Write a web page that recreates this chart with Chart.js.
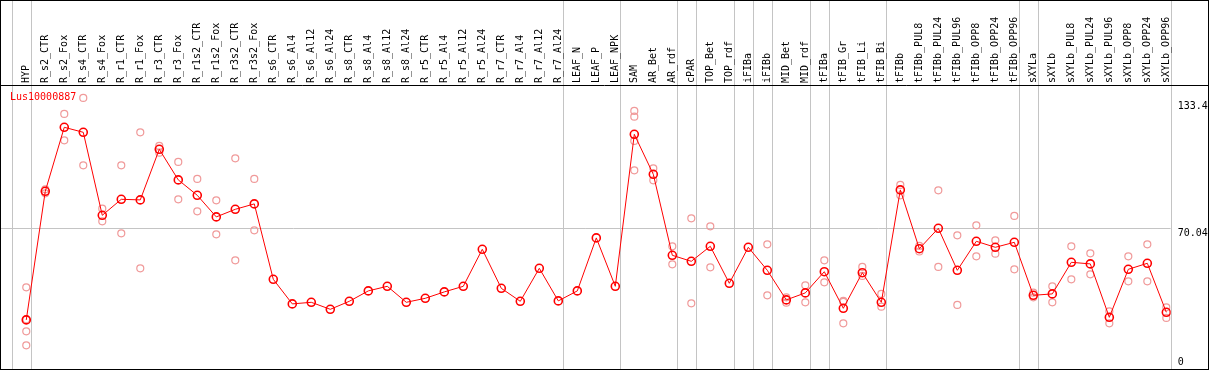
<!DOCTYPE html>
<html>
<head>
<meta charset="utf-8">
<script src="https://cdn.jsdelivr.net/npm/chart.js@4.4.1/dist/chart.umd.min.js"></script>
<style>
  html, body { margin: 0; padding: 0; background: #fff; }
  #wrap { width: 1209px; height: 370px; position: relative; }
</style>
</head>
<body>
<div id="wrap"><canvas id="exprChart"></canvas></div>
<script>
const geneName = 'Lus10000887';

const categories = [
    'HYP', 'R_s2_CTR', 'R_s2_Fox', 'R_s4_CTR', 'R_s4_Fox', 'R_r1_CTR', 'R_r1_Fox',
    'R_r3_CTR', 'R_r3_Fox', 'R_r1s2_CTR', 'R_r1s2_Fox', 'R_r3s2_CTR', 'R_r3s2_Fox',
    'R_s6_CTR', 'R_s6_Al4', 'R_s6_Al12', 'R_s6_Al24', 'R_s8_CTR', 'R_s8_Al4', 'R_s8_Al12',
    'R_s8_Al24', 'R_r5_CTR', 'R_r5_Al4', 'R_r5_Al12', 'R_r5_Al24', 'R_r7_CTR', 'R_r7_Al4',
    'R_r7_Al12', 'R_r7_Al24', 'LEAF_N', 'LEAF_P', 'LEAF_NPK', 'SAM', 'AR_Bet', 'AR_rdf',
    'cPAR', 'TOP_Bet', 'TOP_rdf', 'iFIBa', 'iFIBb', 'MID_Bet', 'MID_rdf', 'tFIBa',
    'tFIB_Gr', 'tFIB_Li', 'tFIB_Bi', 'tFIBb', 'tFIBb_PUL8', 'tFIBb_PUL24', 'tFIBb_PUL96',
    'tFIBb_OPP8', 'tFIBb_OPP24', 'tFIBb_OPP96', 'sXYLa', 'sXYLb', 'sXYLb_PUL8',
    'sXYLb_PUL24', 'sXYLb_PUL96', 'sXYLb_OPP8', 'sXYLb_OPP24', 'sXYLb_OPP96'
];

// mean expression per sample
const meanExpr = [
    24.3, 88.6, 120.6, 118.1, 76.6, 84.6, 84.3, 109.6, 94.3, 86.6, 75.8, 79.6, 82.3,
    44.6, 32.3, 33.1, 29.6, 33.6, 38.8, 41.1, 33.1, 35.1, 38.3, 41.1, 59.6, 40.1, 33.6,
    50.1, 33.8, 38.8, 65.3, 41.1,
    117.1, 97.1, 56.6, 53.6, 61.1, 42.6, 60.6, 49.1, 34.3, 37.8, 48.4, 30.1, 47.9, 33.1,
    89.3, 59.9, 70.1, 49.1, 63.6, 60.6, 63.1,
    36.6, 37.3, 53.1, 52.3, 25.6, 49.6, 52.6, 28.1
];

// individual replicates
const rep1 = [
    40.6, 89.6, 127.3, 135.3, 79.9, 101.6, 118.1, 111.3, 103.3, 94.8, 84.1, 105.1, 94.8,
    null, null, null, null, null, null, null, null, null, null, null, null, null, null,
    null, null, null, null, null,
    128.8, 100.1, 61.1, 75.1, 71.1, null, null, 62.1, 35.6, 41.6, 54.1, 33.8, 50.8, 37.3,
    91.8, 61.3, 89.1, 66.6, 71.6, 64.1, 76.3,
    37.9, 41.1, 61.1, 57.6, 28.6, 56.1, 62.1, 30.6
];
const rep2 = [
    11.6, 87.6, 114.1, 101.6, 73.6, 67.6, 50.1, 107.9, 84.6, 78.6, 67.1, 54.1, 69.1,
    null, null, null, null, null, null, null, null, null, null, null, null, null, null,
    null, null, null, null, null,
    99.1, 94.1, 52.1, 32.6, 50.6, null, null, 36.6, 32.9, 33.1, 43.1, 22.6, 46.3, 30.9,
    86.6, 58.5, 50.8, 31.8, 56.1, 57.4, 49.6,
    35.6, 33.1, 44.6, 47.1, 22.6, 43.6, 43.6, 25.3
];
const rep3 = [
    24.6, null, null, null, null, null, null, null, null, null, null, null, null,
    null, null, null, null, null, null, null, null, null, null, null, null, null, null,
    null, null, null, null, null,
    125.9, null, null, null, null, null, null, null, null, null, null, 33.3, null, null,
    null, null, null, null, null, null, null,
    null, null, null, null, null, null, null, null
];
const rep4 = [
    18.6, null, null, null, null, null, null, null, null, null, null, null, null,
    null, null, null, null, null, null, null, null, null, null, null, null, null, null,
    null, null, null, null, null,
    113.8, null, null, null, null, null, null, null, null, null, null, null, null, null,
    null, null, null, null, null, null, null,
    null, null, null, null, null, null, null, null
];

const yLabels = [133.4, 70.04, 0];
const refLine = 70.04;
// vertical separators drawn after these sample indices
const groupBreaks = [-1, 0, 28, 31, 34, 35, 37, 38, 39, 41, 42, 45, 52, 53, 60];

const MONO = '"DejaVu Sans Mono", monospace';

function toPoints(arr) {
    return arr.map((v, i) => (v === null ? null : { x: i, y: v })).filter(p => p);
}

const frame = {
    id: 'frame',
    beforeDraw(chart) {
        const ctx = chart.ctx;
        const x = chart.scales.x;
        const y = chart.scales.y;
        const area = chart.chartArea;
        ctx.save();
        ctx.strokeStyle = '#c4c4c4';
        ctx.lineWidth = 1;
        groupBreaks.forEach(b => {
            const px = Math.round(x.getPixelForValue(b + 0.23)) + 0.5;
            ctx.beginPath();
            ctx.moveTo(px, 0);
            ctx.lineTo(px, chart.height);
            ctx.stroke();
        });
        const py = Math.round(y.getPixelForValue(refLine)) + 0.5;
        ctx.beginPath();
        ctx.moveTo(area.left, py);
        ctx.lineTo(area.right, py);
        ctx.stroke();
        ctx.restore();
    },
    afterDraw(chart) {
        const ctx = chart.ctx;
        const y = chart.scales.y;
        const area = chart.chartArea;
        ctx.save();
        ctx.strokeStyle = '#000';
        ctx.lineWidth = 1;
        ctx.strokeRect(0.5, 0.5, chart.width - 1, chart.height - 1);
        ctx.beginPath();
        ctx.moveTo(0, 85.5);
        ctx.lineTo(chart.width, 85.5);
        ctx.stroke();

        ctx.font = '10px ' + MONO;
        ctx.fillStyle = '#000';
        ctx.textAlign = 'left';
        yLabels.forEach(v => {
            let py = y.getPixelForValue(v);
            if (v === 0) {
                ctx.textBaseline = 'bottom';
                py = area.bottom - 1;
            } else {
                ctx.textBaseline = 'top';
            }
            ctx.fillText(String(v), area.right + 7, py);
        });

        ctx.fillStyle = '#ff0000';
        ctx.textBaseline = 'middle';
        ctx.fillText(geneName, 10, 97);
        ctx.restore();
    }
};

const repStyle = {
    type: 'scatter',
    showLine: false,
    pointRadius: 3.5,
    pointBorderWidth: 1.2,
    pointBorderColor: '#f09a9a',
    pointBackgroundColor: 'rgba(0,0,0,0)',
    order: 2
};

new Chart(document.getElementById('exprChart').getContext('2d'), {
    type: 'line',
    data: {
        datasets: [
            {
                label: geneName,
                data: toPoints(meanExpr),
                borderColor: '#ff0000',
                borderWidth: 1,
                tension: 0,
                pointRadius: 4,
                pointBorderWidth: 1.6,
                pointBorderColor: '#ff0000',
                pointBackgroundColor: 'rgba(0,0,0,0)',
                order: 1
            },
            { ...repStyle, label: 'rep1', data: toPoints(rep1) },
            { ...repStyle, label: 'rep2', data: toPoints(rep2) },
            { ...repStyle, label: 'rep3', data: toPoints(rep3) },
            { ...repStyle, label: 'rep4', data: toPoints(rep4) }
        ]
    },
    options: {
        responsive: true,
        maintainAspectRatio: false,
        animation: false,
        layout: { autoPadding: false, padding: { left: 1, right: 38.3, top: 0, bottom: 1.5 } },
        plugins: { legend: { display: false }, tooltip: { enabled: false } },
        scales: {
            x: {
                type: 'linear',
                position: 'top',
                min: -1.33,
                max: 60.23,
                grid: { display: false, drawTicks: false },
                border: { display: false },
                afterBuildTicks: axis => {
                    axis.ticks = categories.map((c, i) => ({ value: i }));
                },
                afterFit: axis => {
                    axis.height = 86;
                    axis.paddingLeft = 0;
                    axis.paddingRight = 0;
                },
                ticks: {
                    autoSkip: false,
                    minRotation: 90,
                    maxRotation: 90,
                    padding: 3,
                    labelOffset: 12,
                    color: '#000',
                    font: { family: MONO, size: 10 },
                    callback: value => categories[value]
                }
            },
            y: {
                display: false,
                min: 0,
                max: 141.25
            }
        }
    },
    plugins: [frame]
});
</script>
</body>
</html>
